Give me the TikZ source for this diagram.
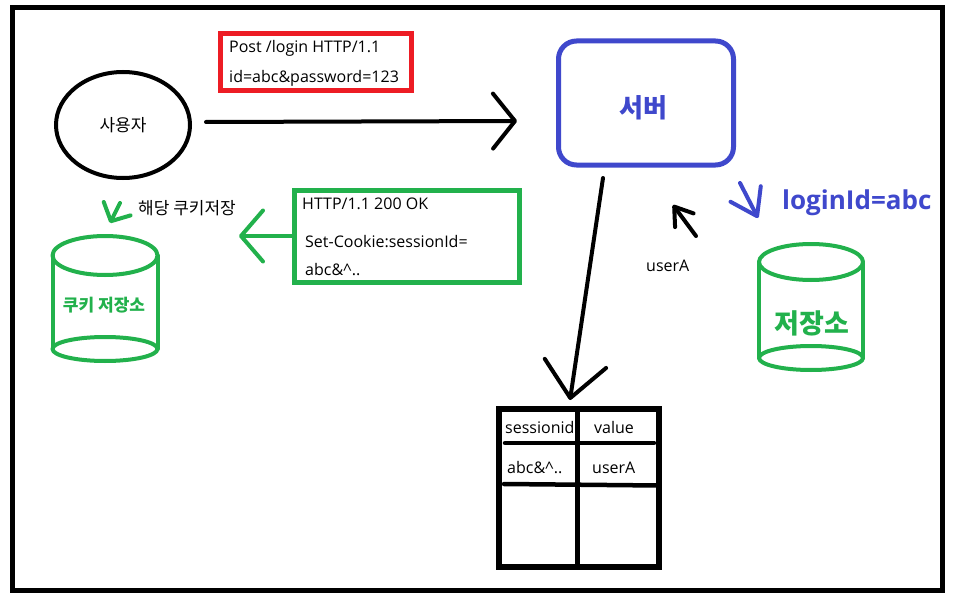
\documentclass[tikz,border=0pt]{standalone}
\usepackage{fontspec}
\setmainfont{Open Sans}
\newfontfamily\kr{Noto Sans CJK KR}
\usetikzlibrary{arrows.meta, shapes.geometric}

\definecolor{paintred}{HTML}{ED1C24}
\definecolor{paintgreen}{HTML}{22B14C}
\definecolor{paintblue}{HTML}{3F48CC}

\tikzset{
  txt/.style={anchor=base west, inner sep=0, font=\fontsize{16}{18}\selectfont},
  kor/.style={inner sep=0, font=\kr\fontsize{17}{20}\selectfont},
  pen/.style={line width=4pt, line cap=round, line join=round},
  barb/.style 2 args={-{Straight Barb[length=#1, width=#2, round]}},
}

\begin{document}
\begin{tikzpicture}[x=1pt, y=-1pt]
    % Frame
    \useasboundingbox (0,0) rectangle (953,607);
    \fill[white] (0,0) rectangle (953,607);
    \draw[line width=5pt] (12.5,7.5) rectangle (942.5,590.5);

    % Draw nodes
    \node[ellipse, draw, line width=4pt, minimum width=134pt, minimum height=106pt, kor] (user) at (123,125) {사용자};
    \node[draw=paintred, line width=5pt, minimum width=191pt, minimum height=57pt] (req) at (316,62.5) {};
    \node[draw=paintblue, line width=5pt, rounded corners=18pt, minimum width=175pt, minimum height=124pt] (server) at (646,103) {};
    \node[draw=paintgreen, line width=5pt, minimum width=225pt, minimum height=92pt] (resp) at (407,236) {};
    \node[draw, line width=5.5pt, minimum width=160pt, minimum height=158pt] (tbl) at (579,488) {};

    % Cookie jar and store
    \draw[pen, paintgreen] (105,255.5) ellipse (52.5 and 19.5);
    \draw[pen, paintgreen] (105,349) ellipse (52.5 and 12);
    \draw[pen, paintgreen] (52.5,255.5) -- (52.5,349) (157.5,255.5) -- (157.5,349);
    \draw[pen, paintgreen] (811,262) ellipse (52 and 18);
    \draw[pen, paintgreen] (811,358) ellipse (52 and 12);
    \draw[pen, paintgreen] (759,262) -- (759,358) (863,262) -- (863,358);

    % Table lines
    \draw[line width=5pt] (tbl.north) ++(-2,0) coordinate (colTop) -- (colTop |- tbl.south);
    \draw[line width=4.5pt, line cap=round] (505,443) -- (654,443);
    \draw[line width=4.5pt, line cap=round] (504,484) -- (659,485.5);

    % Draw connections
    \coordinate (reqS) at (206,122);
    \coordinate (reqE) at (517,121);
    \coordinate (jarTip) at (239,236);
    \coordinate (sessS) at (603,178);
    \coordinate (sessE) at (570,400);
    \coordinate (uaS) at (696,236);
    \coordinate (uaE) at (673,205);
    \coordinate (idS) at (740,183);
    \coordinate (idE) at (758,218);
    \coordinate (saveS) at (120,203);
    \coordinate (saveE) at (110,223);
    \draw[pen, barb={22pt}{55pt}] (reqS) -- (reqE);
    \draw[pen, paintgreen, barb={22pt}{51pt}] (resp.west) -- (jarTip);
    \draw[pen, barb={35pt}{62pt}] (sessS) -- (sessE);
    \draw[pen, barb={17pt}{23pt}] (uaS) -- (uaE);
    \draw[pen, paintblue, barb={25pt}{34pt}] (idS) -- (idE);
    \draw[pen, paintgreen, barb={14pt}{30pt}] (saveS) -- (saveE);

    % Labels
    \node[txt] (reqA) at (229,53) {Post /login HTTP/1.1};
    \node[txt] (reqB) at (229,83) {id=abc\&password=123};
    \node[txt] (respA) at (302,209) {HTTP/1.1 200 OK};
    \node[txt] (respB) at (305,247) {Set-Cookie:sessionId=};
    \node[txt] (respC) at (305,275) {abc\&\textasciicircum..};
    \node[txt] (uaLbl) at (646,271.5) {userA};
    \node[txt] (colA) at (505,433) {sessionid};
    \node[txt] (colB) at (594,433) {value};
    \node[txt] (rowA) at (507,473) {abc\&\textasciicircum..};
    \node[txt] (rowB) at (592,473) {userA};
    \node[kor, anchor=west] (saveLbl) at (138,208) {해당 쿠키저장};
    \node[kor, font=\kr\bfseries\fontsize{26}{30}\selectfont, text=paintblue] (serverLbl) at (643,108) {서버};
    \node[txt, font=\bfseries\fontsize{26}{30}\selectfont, text=paintblue] (idLbl) at (782,209.5) {loginId=abc};
    \node[kor, font=\kr\bfseries\fontsize{17}{20}\selectfont, text=paintgreen] (jarLbl) at (104,305) {쿠키 저장소};
    \node[kor, font=\kr\bfseries\fontsize{27}{30}\selectfont, text=paintgreen] (storeLbl) at (812,323) {저장소};
\end{tikzpicture}
\end{document}
